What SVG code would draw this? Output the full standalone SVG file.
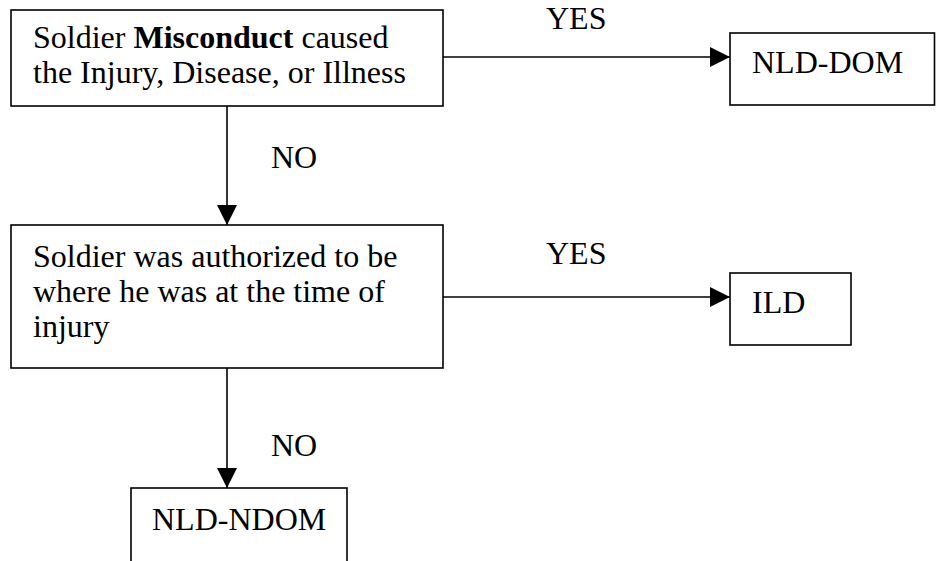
<svg xmlns="http://www.w3.org/2000/svg" width="936" height="561" viewBox="0 0 936 561">
<style>
.box{fill:#fff;stroke:#000;stroke-width:1.6}
.t{font-family:"Liberation Serif","Times New Roman",serif;font-size:32px;fill:#000}
.b{font-weight:bold}
.c{stroke:#000;stroke-width:1.6;fill:none}
</style>
<defs>
<marker id="ah" markerUnits="userSpaceOnUse" markerWidth="20" markerHeight="20" refX="20" refY="10" orient="auto">
<path d="M0,0 L20,10 L0,20 Z" fill="#000"/>
</marker>
</defs>
<rect width="936" height="561" fill="#fff"/>
<g id="n1">
<rect class="box" x="11" y="10" width="432" height="96"/>
<text class="t" x="33" y="48">Soldier <tspan class="b">Misconduct</tspan> caused</text>
<text class="t" x="33" y="83">the Injury, Disease, or Illness</text>
</g>
<g id="n2">
<rect class="box" x="730" y="33" width="204.5" height="72"/>
<text class="t" x="752" y="73">NLD-DOM</text>
</g>
<g id="n3">
<rect class="box" x="11" y="225" width="432" height="143"/>
<text class="t" x="33" y="267">Soldier was authorized to be</text>
<text class="t" x="33" y="302">where he was at the time of</text>
<text class="t" x="33" y="337">injury</text>
</g>
<g id="n4">
<rect class="box" x="730" y="273" width="121" height="72"/>
<text class="t" x="752" y="313">ILD</text>
</g>
<g id="n5">
<rect class="box" x="131" y="488" width="216" height="90"/>
<text class="t" x="152" y="530">NLD-NDOM</text>
</g>
<g id="connectors">
<line class="c" x1="443" y1="57" x2="730" y2="57" marker-end="url(#ah)"/>
<line class="c" x1="227" y1="106" x2="227" y2="225" marker-end="url(#ah)"/>
<line class="c" x1="443" y1="297" x2="730" y2="297" marker-end="url(#ah)"/>
<line class="c" x1="227" y1="368" x2="227" y2="488" marker-end="url(#ah)"/>
<text class="t" x="546" y="29">YES</text>
<text class="t" x="271" y="168">NO</text>
<text class="t" x="546" y="264">YES</text>
<text class="t" x="271" y="456">NO</text>
</g>
</svg>
